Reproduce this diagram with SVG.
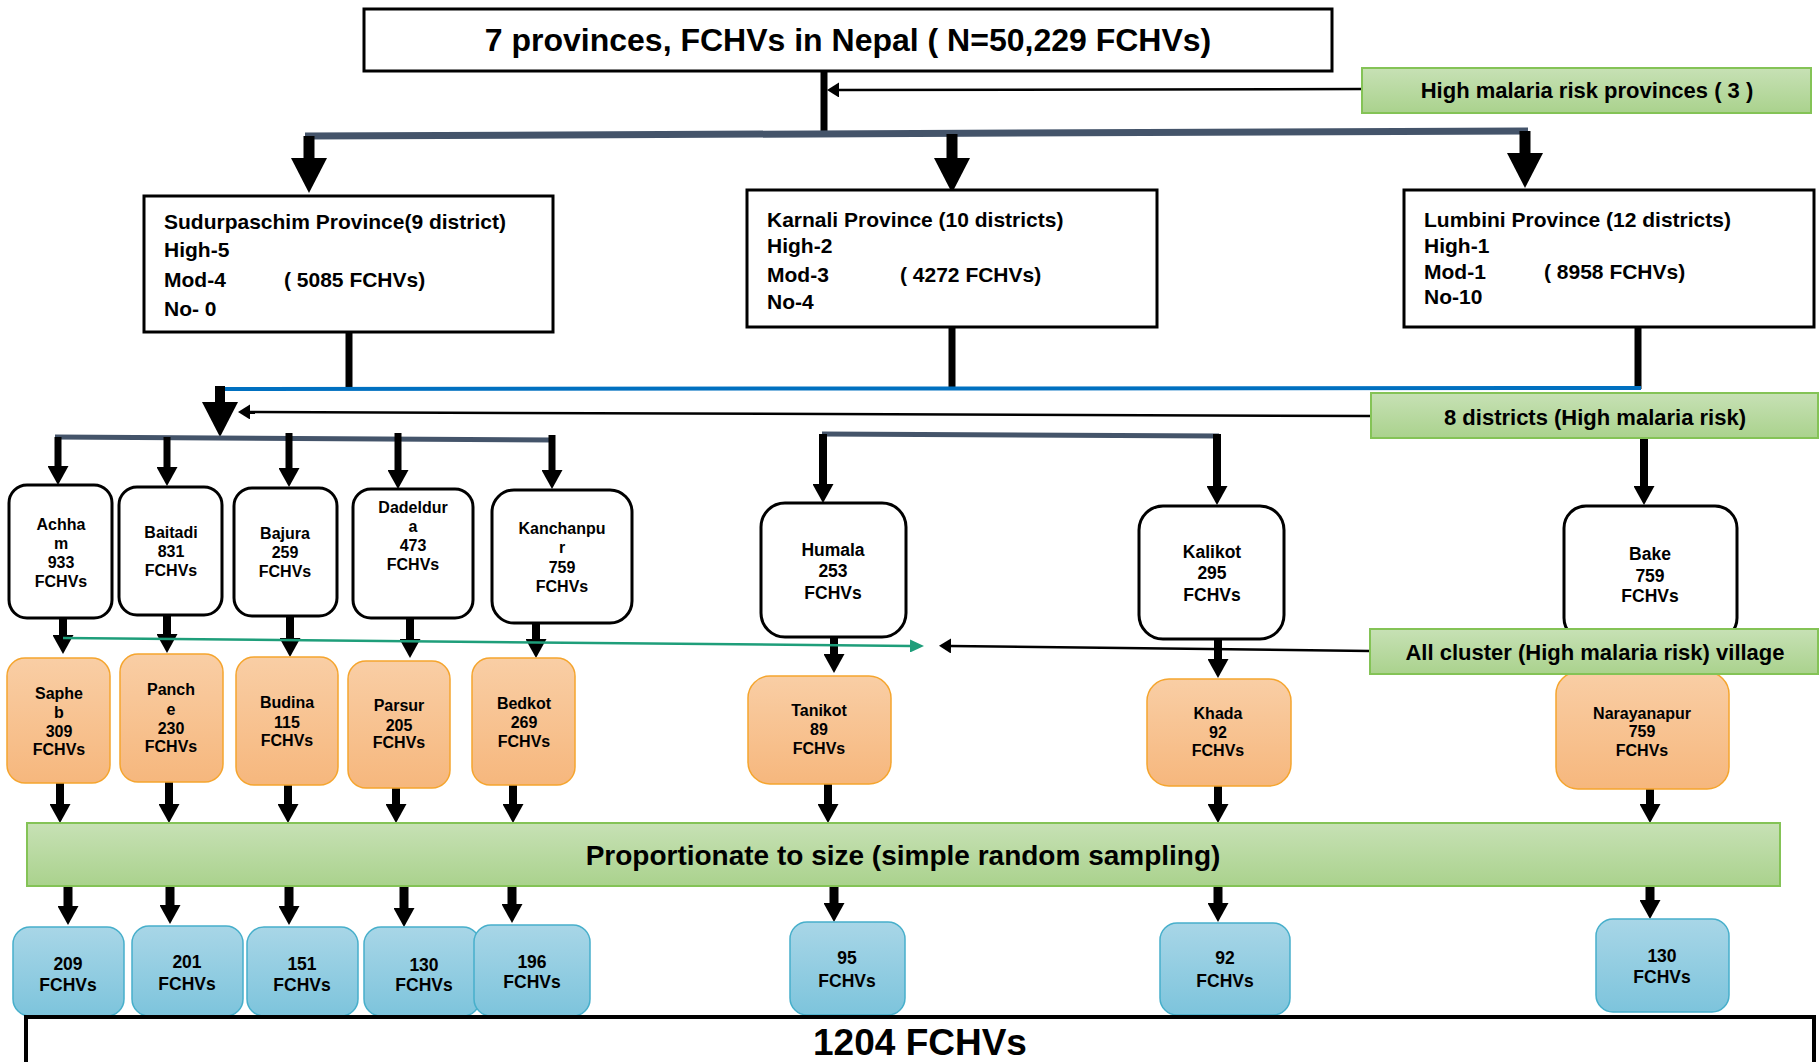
<svg xmlns="http://www.w3.org/2000/svg" width="1820" height="1062" viewBox="0 0 1820 1062">
<style>
text{font-family:"Liberation Sans",Arial,sans-serif;font-weight:bold;fill:#000}
.c{text-anchor:middle}
.t16{font-size:16px}
.t17{font-size:17.5px}
.t21{font-size:21px}
.t22{font-size:22px}
.plain{fill:#fff;stroke:#000;stroke-width:3}
.dist{fill:#fff;stroke:#000;stroke-width:3}
.vill{fill:url(#gOrange);stroke:#F5A52E;stroke-width:1.5}
.samp{fill:url(#gBlue);stroke:#47AFCB;stroke-width:1.5}
.note{fill:url(#gGreen);stroke:#84C356;stroke-width:2}
.k{fill:none;stroke:#000}
.bar{fill:none;stroke:#44546A}
.w7{stroke-width:7}
.w8{stroke-width:8}
.w9{stroke-width:9}
.w11{stroke-width:11}
.hXL{marker-end:url(#hXL)}
.hM{marker-end:url(#hM)}
</style>
<defs>
  <linearGradient id="gGreen" x1="0" y1="0" x2="0" y2="1">
    <stop offset="0" stop-color="#C7E1B5"/>
    <stop offset="1" stop-color="#AAD28D"/>
  </linearGradient>
  <linearGradient id="gOrange" x1="0" y1="0" x2="0" y2="1">
    <stop offset="0" stop-color="#F9CEA5"/>
    <stop offset="1" stop-color="#F6B77D"/>
  </linearGradient>
  <linearGradient id="gBlue" x1="0" y1="0" x2="0" y2="1">
    <stop offset="0" stop-color="#A8D6E7"/>
    <stop offset="1" stop-color="#7DC4DC"/>
  </linearGradient>
  <marker id="hXL" markerUnits="userSpaceOnUse" markerWidth="35" markerHeight="36" viewBox="0 0 35 36" refX="1" refY="18" orient="auto">
    <path d="M0,0L35,18L0,36z" fill="#000"/>
  </marker>
  <marker id="hM" markerUnits="userSpaceOnUse" markerWidth="19" markerHeight="21" viewBox="0 0 19 21" refX="1" refY="10.5" orient="auto">
    <path d="M0,0L19,10.5L0,21z" fill="#000"/>
  </marker>
  <marker id="hS" markerUnits="userSpaceOnUse" markerWidth="12" markerHeight="15" viewBox="0 0 12 15" refX="1" refY="7.5" orient="auto">
    <path d="M0,0L12,7.5L0,15z" fill="#000"/>
  </marker>
  <marker id="hT" markerUnits="userSpaceOnUse" markerWidth="14" markerHeight="13" viewBox="0 0 14 13" refX="1" refY="6.5" orient="auto">
    <path d="M0,0L14,6.5L0,13z" fill="#1E9E7A"/>
  </marker>
</defs>

<rect width="1820" height="1062" fill="#fff"/>

<g id="connectors">
  <!-- top trunk and side note arrow -->
  <path class="k w7" d="M824,71V133"/>
  <path class="k" stroke-width="2.5" d="M1362,89L838,90" marker-end="url(#hS)"/>
  <path class="bar" stroke-width="7" d="M305,136L1528,131"/>
  <path class="k w11 hXL" d="M309,136V159"/>
  <path class="k w11 hXL" d="M952,134V159"/>
  <path class="k w11 hXL" d="M1525,131V154"/>

  <!-- province outputs joined on the blue line -->
  <path class="k w7" d="M349,332V390"/>
  <path class="k w7" d="M952,327V389"/>
  <path class="k w7" d="M1638,327V389"/>
  <path fill="none" stroke="#0070C0" stroke-width="4" d="M223,389L1641,388"/>
  <path class="k" stroke-width="10" d="M220,386V403" marker-end="url(#hXL)"/>
  <path class="k" stroke-width="2.5" d="M1371,416L249,412" marker-end="url(#hS)"/>

  <!-- district branches -->
  <path class="bar" stroke-width="5" d="M55,437L553,440"/>
  <path class="k w7 hM" d="M58,437V467"/>
  <path class="k w7 hM" d="M167,437V468"/>
  <path class="k w7 hM" d="M289,433V469"/>
  <path class="k w7 hM" d="M398,433V471"/>
  <path class="k w7 hM" d="M552,435V471"/>
  <path class="bar" stroke-width="5" d="M822,434L1219,436"/>
  <path class="k w8 hM" d="M823,434V485"/>
  <path class="k w8 hM" d="M1217,434V487"/>
  <path class="k w8 hM" d="M1644,438V487"/>

  <!-- districts to villages -->
  <path class="k w8 hM" d="M63,618V636"/>
  <path class="k w8 hM" d="M167,615V635"/>
  <path class="k w8 hM" d="M290,616V639"/>
  <path class="k w8 hM" d="M410,618V640"/>
  <path class="k w8 hM" d="M536,623V640"/>
  <path class="k w8 hM" d="M834,637V655"/>
  <path class="k w8 hM" d="M1218,639V660"/>

  <!-- village selection pointers -->
  <path fill="none" stroke="#1E9E7A" stroke-width="2.5" d="M63,638L911,646" marker-end="url(#hT)"/>
  <path class="k" stroke-width="2.5" d="M1370,651L950,646" marker-end="url(#hS)"/>

  <!-- villages to sampling -->
  <path class="k w8 hM" d="M60,783V805"/>
  <path class="k w8 hM" d="M169,782V805"/>
  <path class="k w8 hM" d="M288,785V805"/>
  <path class="k w8 hM" d="M396,788V805"/>
  <path class="k w8 hM" d="M513,785V805"/>
  <path class="k w8 hM" d="M828,784V805"/>
  <path class="k w8 hM" d="M1218,786V805"/>
  <path class="k w8 hM" d="M1650,789V805"/>

  <!-- sampling to sample sizes -->
  <path class="k w9 hM" d="M68,886V907"/>
  <path class="k w9 hM" d="M170,886V906"/>
  <path class="k w9 hM" d="M289,886V907"/>
  <path class="k w9 hM" d="M404,886V909"/>
  <path class="k w9 hM" d="M512,886V905"/>
  <path class="k w9 hM" d="M834,886V904"/>
  <path class="k w9 hM" d="M1218,886V904"/>
  <path class="k w9 hM" d="M1650,886V901"/>
</g>

<g id="nepal">
  <rect class="plain" x="364" y="9" width="968" height="62"/>
  <text class="c" x="848" y="51" font-size="32">7 provinces, FCHVs in Nepal ( N=50,229 FCHVs)</text>
</g>
<g id="note-provinces">
  <rect class="note" x="1362" y="68" width="449" height="45"/>
  <text class="c t22" x="1587" y="98">High malaria risk provinces ( 3 )</text>
</g>

<g id="sudurpaschim">
  <rect class="plain" x="144" y="196" width="409" height="136"/>
  <text class="t21" x="164" y="229">Sudurpaschim Province(9 district)</text>
  <text class="t21" x="164" y="257">High-5</text>
  <text class="t21" x="164" y="287">Mod-4</text>
  <text class="t21" x="284" y="287">( 5085 FCHVs)</text>
  <text class="t21" x="164" y="316">No- 0</text>
</g>
<g id="karnali">
  <rect class="plain" x="747" y="190" width="410" height="137"/>
  <text class="t21" x="767" y="227">Karnali Province (10 districts)</text>
  <text class="t21" x="767" y="253">High-2</text>
  <text class="t21" x="767" y="282">Mod-3</text>
  <text class="t21" x="900" y="282">( 4272 FCHVs)</text>
  <text class="t21" x="767" y="309">No-4</text>
</g>
<g id="lumbini">
  <rect class="plain" x="1404" y="190" width="410" height="137"/>
  <text class="t21" x="1424" y="227">Lumbini Province (12 districts)</text>
  <text class="t21" x="1424" y="253">High-1</text>
  <text class="t21" x="1424" y="279">Mod-1</text>
  <text class="t21" x="1544" y="279">( 8958 FCHVs)</text>
  <text class="t21" x="1424" y="304">No-10</text>
</g>

<g id="note-districts">
  <rect class="note" x="1371" y="393" width="447" height="45"/>
  <text class="c t22" x="1595" y="425">8 districts (High malaria risk)</text>
</g>

<g id="achham">
  <rect class="dist" x="9" y="485" width="103" height="133" rx="18"/>
  <text class="c t16" x="61" y="530">Achha</text>
  <text class="c t16" x="61" y="549">m</text>
  <text class="c t16" x="61" y="568">933</text>
  <text class="c t16" x="61" y="587">FCHVs</text>
</g>
<g id="baitadi">
  <rect class="dist" x="119" y="487" width="103" height="128" rx="18"/>
  <text class="c t16" x="171" y="538">Baitadi</text>
  <text class="c t16" x="171" y="557">831</text>
  <text class="c t16" x="171" y="576">FCHVs</text>
</g>
<g id="bajura">
  <rect class="dist" x="234" y="488" width="103" height="128" rx="18"/>
  <text class="c t16" x="285" y="539">Bajura</text>
  <text class="c t16" x="285" y="558">259</text>
  <text class="c t16" x="285" y="577">FCHVs</text>
</g>
<g id="dadeldura">
  <rect class="dist" x="353" y="489" width="120" height="129" rx="18"/>
  <text class="c t16" x="413" y="513">Dadeldur</text>
  <text class="c t16" x="413" y="532">a</text>
  <text class="c t16" x="413" y="551">473</text>
  <text class="c t16" x="413" y="570">FCHVs</text>
</g>
<g id="kanchanpur">
  <rect class="dist" x="492" y="490" width="140" height="133" rx="22"/>
  <text class="c t16" x="562" y="534">Kanchanpu</text>
  <text class="c t16" x="562" y="553">r</text>
  <text class="c t16" x="562" y="573">759</text>
  <text class="c t16" x="562" y="592">FCHVs</text>
</g>
<g id="humala">
  <rect class="dist" x="761" y="503" width="145" height="134" rx="24"/>
  <text class="c t17" x="833" y="556">Humala</text>
  <text class="c t17" x="833" y="577">253</text>
  <text class="c t17" x="833" y="599">FCHVs</text>
</g>
<g id="kalikot">
  <rect class="dist" x="1139" y="506" width="145" height="133" rx="24"/>
  <text class="c t17" x="1212" y="558">Kalikot</text>
  <text class="c t17" x="1212" y="579">295</text>
  <text class="c t17" x="1212" y="601">FCHVs</text>
</g>
<g id="bake">
  <rect class="dist" x="1564" y="506" width="173" height="134" rx="22"/>
  <text class="c t17" x="1650" y="560">Bake</text>
  <text class="c t17" x="1650" y="582">759</text>
  <text class="c t17" x="1650" y="602">FCHVs</text>
</g>

<g id="saphe">
  <rect class="vill" x="7" y="658" width="103" height="125" rx="18"/>
  <text class="c t16" x="59" y="699">Saphe</text>
  <text class="c t16" x="59" y="718">b</text>
  <text class="c t16" x="59" y="737">309</text>
  <text class="c t16" x="59" y="755">FCHVs</text>
</g>
<g id="panche">
  <rect class="vill" x="120" y="654" width="103" height="128" rx="18"/>
  <text class="c t16" x="171" y="695">Panch</text>
  <text class="c t16" x="171" y="715">e</text>
  <text class="c t16" x="171" y="734">230</text>
  <text class="c t16" x="171" y="752">FCHVs</text>
</g>
<g id="budina">
  <rect class="vill" x="236" y="657" width="102" height="128" rx="18"/>
  <text class="c t16" x="287" y="708">Budina</text>
  <text class="c t16" x="287" y="728">115</text>
  <text class="c t16" x="287" y="746">FCHVs</text>
</g>
<g id="parsur">
  <rect class="vill" x="348" y="661" width="102" height="127" rx="18"/>
  <text class="c t16" x="399" y="711">Parsur</text>
  <text class="c t16" x="399" y="731">205</text>
  <text class="c t16" x="399" y="748">FCHVs</text>
</g>
<g id="bedkot">
  <rect class="vill" x="472" y="658" width="103" height="127" rx="18"/>
  <text class="c t16" x="524" y="709">Bedkot</text>
  <text class="c t16" x="524" y="728">269</text>
  <text class="c t16" x="524" y="747">FCHVs</text>
</g>
<g id="tanikot">
  <rect class="vill" x="748" y="676" width="143" height="108" rx="22"/>
  <text class="c t16" x="819" y="716">Tanikot</text>
  <text class="c t16" x="819" y="735">89</text>
  <text class="c t16" x="819" y="754">FCHVs</text>
</g>
<g id="khada">
  <rect class="vill" x="1147" y="679" width="144" height="107" rx="22"/>
  <text class="c t16" x="1218" y="719">Khada</text>
  <text class="c t16" x="1218" y="738">92</text>
  <text class="c t16" x="1218" y="756">FCHVs</text>
</g>
<g id="narayanapur">
  <rect class="vill" x="1556" y="672" width="173" height="117" rx="22"/>
  <text class="c t16" x="1642" y="719">Narayanapur</text>
  <text class="c t16" x="1642" y="737">759</text>
  <text class="c t16" x="1642" y="756">FCHVs</text>
</g>

<g id="note-villages">
  <rect class="note" x="1370" y="629" width="448" height="45"/>
  <text class="c t22" x="1595" y="660">All cluster (High malaria risk) village</text>
</g>

<g id="sampling">
  <rect class="note" x="27" y="823" width="1753" height="63"/>
  <text class="c" x="903" y="865" font-size="28">Proportionate to size (simple random sampling)</text>
</g>

<g id="s209">
  <rect class="samp" x="13" y="927" width="111" height="89" rx="17"/>
  <text class="c t17" x="68" y="970">209</text>
  <text class="c t17" x="68" y="991">FCHVs</text>
</g>
<g id="s201">
  <rect class="samp" x="132" y="926" width="111" height="90" rx="17"/>
  <text class="c t17" x="187" y="968">201</text>
  <text class="c t17" x="187" y="990">FCHVs</text>
</g>
<g id="s151">
  <rect class="samp" x="247" y="927" width="111" height="89" rx="17"/>
  <text class="c t17" x="302" y="970">151</text>
  <text class="c t17" x="302" y="991">FCHVs</text>
</g>
<g id="s130a">
  <rect class="samp" x="364" y="927" width="116" height="89" rx="17"/>
  <text class="c t17" x="424" y="971">130</text>
  <text class="c t17" x="424" y="991">FCHVs</text>
</g>
<g id="s196">
  <rect class="samp" x="474" y="925" width="116" height="91" rx="17"/>
  <text class="c t17" x="532" y="968">196</text>
  <text class="c t17" x="532" y="988">FCHVs</text>
</g>
<g id="s95">
  <rect class="samp" x="790" y="922" width="115" height="93" rx="17"/>
  <text class="c t17" x="847" y="964">95</text>
  <text class="c t17" x="847" y="987">FCHVs</text>
</g>
<g id="s92">
  <rect class="samp" x="1160" y="923" width="130" height="92" rx="17"/>
  <text class="c t17" x="1225" y="964">92</text>
  <text class="c t17" x="1225" y="987">FCHVs</text>
</g>
<g id="s130b">
  <rect class="samp" x="1596" y="919" width="133" height="93" rx="17"/>
  <text class="c t17" x="1662" y="962">130</text>
  <text class="c t17" x="1662" y="983">FCHVs</text>
</g>

<g id="total">
  <rect fill="#fff" stroke="#000" stroke-width="4" x="26" y="1017" width="1788" height="50"/>
  <text class="c" x="920" y="1055" font-size="37">1204 FCHVs</text>
</g>
</svg>
